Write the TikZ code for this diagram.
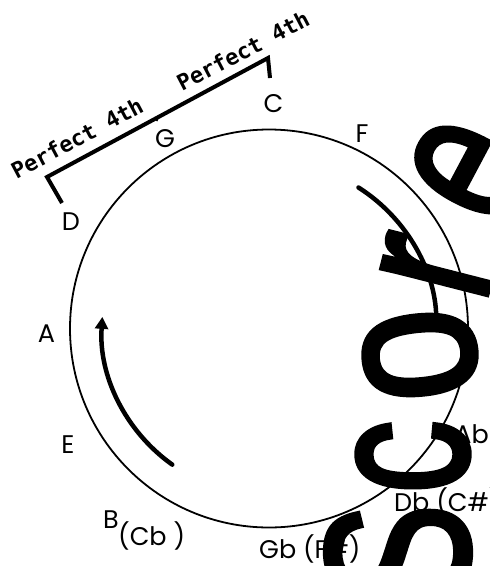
\documentclass[tikz,border=0pt]{standalone}
\usepackage{fontspec}
\setmainfont{Poppins}
\newfontfamily\markfont[FakeBold=2.5]{Liberation Sans}
\newfontfamily\letterfont{DejaVu Sans Mono}
\usetikzlibrary{arrows.meta}
\newcommand{\squeezed}[2]{\scalebox{#1}[1]{#2}}
\begin{document}
\begin{tikzpicture}[x=1pt,y=1pt,
  lbl/.style={font=\fontsize{25.5}{25.5}\selectfont, inner sep=0pt},
  pfour/.style={font=\letterfont\bfseries\fontsize{22}{22}\selectfont, inner sep=0pt},
  bigmark/.style={font=\markfont\fontsize{205}{205}\selectfont, inner sep=0pt},
  wheelline/.style={line width=1.8pt},
  arrowline/.style={line width=4.5pt, line cap=round, -{Triangle[width=13pt,length=12pt]}},
  bracketline/.style={line width=4pt, line join=miter}]
\useasboundingbox (0,0) rectangle (490,-566);
\fill[white] (0,0) rectangle (490,-566);

% circle and arrows
\coordinate (ctr) at (269,-328.5);
\draw[wheelline] (ctr) circle[radius=199];
\draw[arrowline] ([shift={(234.6:167)}]ctr) arc[start angle=234.6, end angle=176, radius=167];
\draw[arrowline] ([shift={(57.6:167)}]ctr) arc[start angle=57.6, end angle=-1.5, radius=167];

% bracket
\coordinate (bD) at (62,-203);
\coordinate (bL) at (47,-177);
\coordinate (bG) at (158,-117);
\coordinate (bR) at (268,-58);
\coordinate (bC) at (270,-78);
\draw[bracketline] (bD) -- (bL) -- (bR) -- (bC);
\draw[line width=2pt] (bG) -- ++(-1.5,-4);

\node[pfour, rotate=28] (p1) at (77,-138) {Perfect 4th};
\node[pfour, rotate=27.5] (p2) at (243,-51) {Perfect 4th};

% note labels
\node[lbl] (nC) at (273.5,-103.5) {C};
\node[lbl] (nG) at (165,-138.5) {G};
\node[lbl] (nF) at (362,-133.5) {F};
\node[lbl] (nD) at (71,-221.5) {D};
\node[lbl] (nA) at (46.5,-334) {A};
\node[lbl] (nE) at (68,-445) {E};
\node[lbl, anchor=base west] (nB) at (103,-528) {B};
\node[lbl, anchor=base west] (nCb) at (118,-545) {(Cb )};
\node[lbl, anchor=base west] (nGb) at (259,-558) {Gb (F\#)};
\node[lbl, anchor=base west] (nDb) at (394,-511) {Db (C\#)};
\node[lbl, anchor=base east] (nAb) at (489,-443) {Ab};

% large overlaid lettering
\node[bigmark, rotate=90] (wS) at (398,-553) {\squeezed{0.72}{S}};
\node[bigmark, rotate=90] (wc) at (413,-457) {\squeezed{0.72}{c}};
\node[bigmark, rotate=96] (wo) at (420,-355) {\squeezed{0.82}{o}};
\node[bigmark, rotate=75.7] (wr) at (437,-267) {\squeezed{0.75}{r}};
\node[bigmark, rotate=62] (we) at (470,-170) {\squeezed{0.72}{e}};
\end{tikzpicture}
\end{document}
